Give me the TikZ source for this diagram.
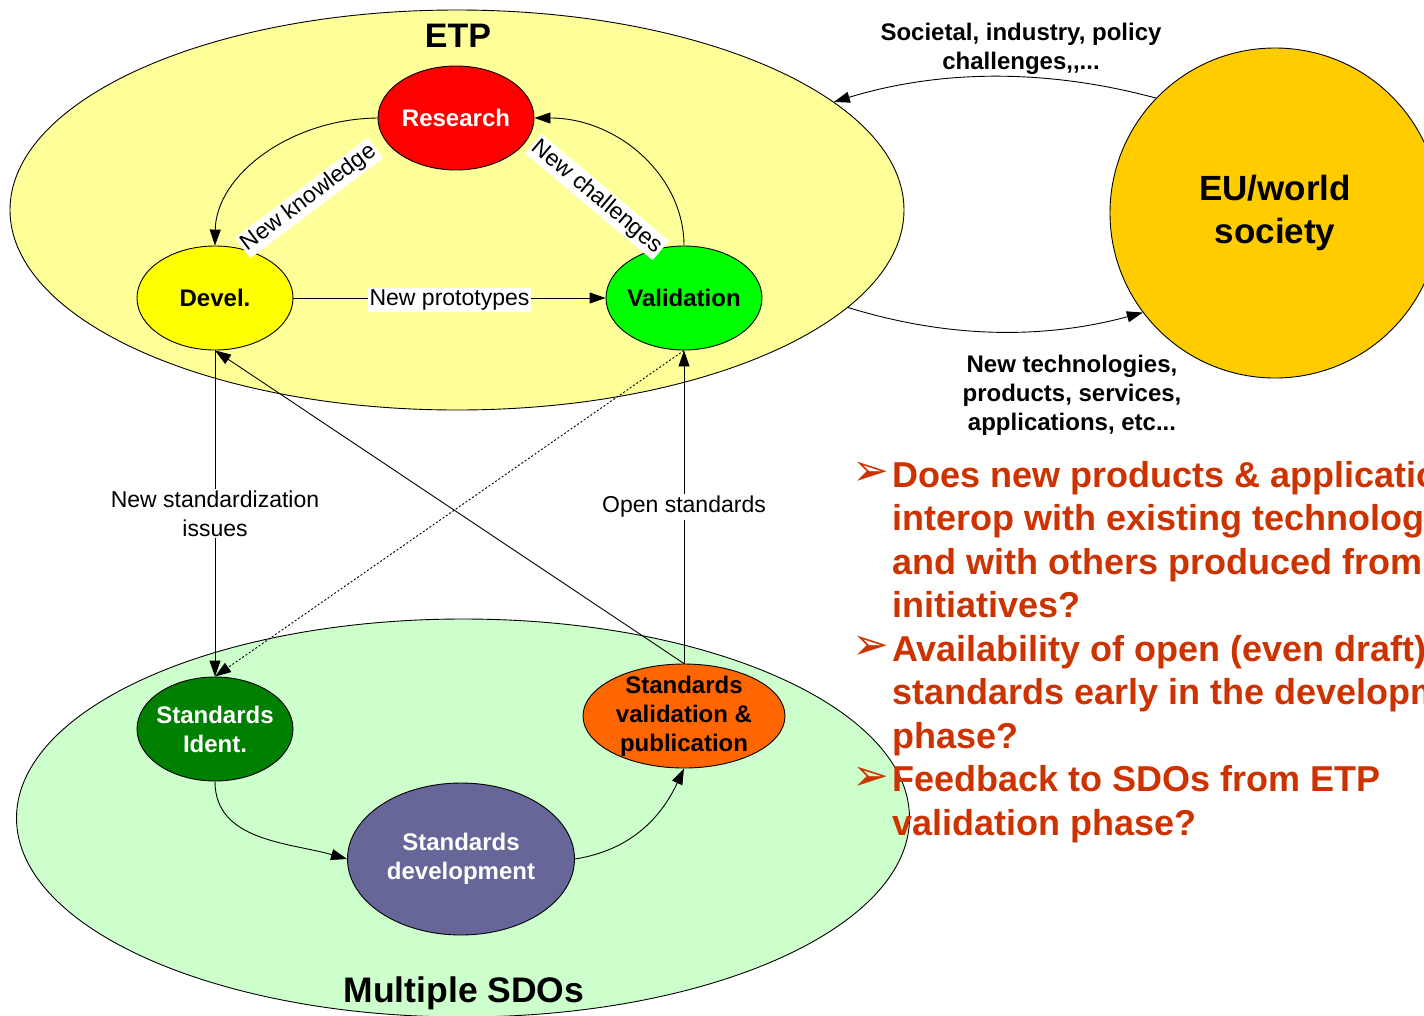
\documentclass[tikz,border=0pt]{standalone}
\usepackage{fontspec}
\setmainfont{Liberation Sans}
\newfontfamily\symfont{DejaVu Sans}
\usetikzlibrary{arrows.meta,shapes.geometric}
\definecolor{etpcol}{HTML}{FFFF99}
\definecolor{sdocol}{HTML}{CCFFCC}
\definecolor{eucol}{HTML}{FFCC00}
\definecolor{rescol}{HTML}{FF0000}
\definecolor{devcol}{HTML}{FFFF00}
\definecolor{valcol}{HTML}{00FF00}
\definecolor{idcol}{HTML}{008000}
\definecolor{svcol}{HTML}{FF6600}
\definecolor{sdcol}{HTML}{666699}
\definecolor{qcol}{HTML}{CC3300}
\begin{document}
\begin{tikzpicture}[x=1pt,y=-1pt,
  lw/.style={line width=0.9pt},
  big/.style={ellipse,draw,lw,inner sep=0pt},
  proc/.style={ellipse,draw,lw,inner sep=-6pt,minimum width=156pt,minimum height=104pt,align=center,font=\fontsize{24}{29}\selectfont\bfseries},
  arr/.style={lw,-{Triangle[length=16pt,width=11pt]}},
  lbl/.style={fill=white,inner sep=2pt,font=\fontsize{23}{29}\selectfont,align=center},
  blbl/.style={inner sep=0pt,font=\fontsize{24}{29}\selectfont\bfseries,align=center},
  title/.style={inner sep=0pt,anchor=base,font=\fontsize{34}{40}\selectfont\bfseries},
  qtext/.style={anchor=base west,inner sep=0pt,text=qcol,font=\fontsize{36}{43}\selectfont\bfseries},
  bul/.style={inner sep=0pt,text=qcol,font=\symfont\fontsize{44}{46}\selectfont},
]
\useasboundingbox (0,0) rectangle (1424,1015);
\clip (0,0) rectangle (1424,1015);
\fill[white] (0,0) rectangle (1424,1015);

% large regions
\node[big,fill=etpcol,minimum width=894pt,minimum height=400pt] (etp) at (457,210) {};
\node[big,fill=sdocol,minimum width=893pt,minimum height=398pt] (sdo) at (463,818) {};
\node[circle,draw,lw,fill=eucol,minimum size=330pt,inner sep=0pt,align=center,font=\fontsize{35}{43}\selectfont\bfseries] (eu) at (1275,213) {EU/world\\society};

\node[title] (etpt) at (458,47) {ETP};
\node[title,font=\fontsize{35.5}{40}\selectfont\bfseries] (sdot) at (464,1002) {Multiple SDOs};

% process nodes
\node[proc,fill=rescol,text=white] (res) at (456,118) {Research};
\node[proc,fill=devcol] (dev) at (215,298) {Devel.};
\node[proc,fill=valcol] (val) at (684,298) {Validation};
\node[proc,fill=idcol,text=white] (sid) at (215,729) {Standards\\Ident.};
\node[proc,fill=svcol,minimum width=202pt] (sv) at (684,716) {Standards\\validation \&\\publication};
\node[proc,fill=sdcol,text=white,minimum width=227pt,minimum height=152pt] (sdev) at (461,859) {Standards\\development};

% connectors
\draw[arr] (res.west) .. controls (289,119) and (216,176) .. (dev.north);
\draw[arr] (val.north) .. controls (684,176) and (618,118) .. (res.east);
\draw[arr] (dev.east) -- node[lbl,yshift=-2pt] (lproto) {New prototypes} (val.west);
\draw[arr] (dev.south) -- node[lbl] (lstd) {New standardization\\issues} (sid.north);
\draw[arr] (sv.north) -- node[lbl] (lopen) {Open standards} (val.south);
\draw[arr,dash pattern=on 2pt off 2pt] (val.south) -- (sid.north);
\draw[arr] (sv.north) -- (dev.south);
\draw[arr] (sid.south) to[out=-90,in=164] (sdev.west);
\draw[arr] (sdev.east) to[out=9,in=-115] (sv.south);
\draw[arr] (eu.136) .. controls (1048,69) and (942,69) .. (etp.16);
\draw[arr] (etp.-14) .. controls (950,339) and (1045,339) .. (eu.217);

\node[lbl,rotate=37] (lknow) at (309,198) {New knowledge};
\node[lbl,rotate=-40] (lchal) at (597,197) {New challenges};

\node[blbl] (soc) at (1021,49) {Societal, industry, policy\\challenges{,}{,}...};
\node[blbl] (tech) at (1072,395) {New technologies,\\products, services,\\applications, etc...};

% questions
\node[bul] (b1) at (871,474) {➢};
\node[bul] (b2) at (871,648) {➢};
\node[bul] (b3) at (871,779) {➢};
\node[qtext] (q1) at (892,487) {Does new products \& applications};
\node[qtext] (q2) at (892,530.5) {interop with existing technologies};
\node[qtext] (q3) at (892,574) {and with others produced from};
\node[qtext] (q4) at (892,617.5) {initiatives?};
\node[qtext] (q5) at (892,661) {Availability of open (even draft)};
\node[qtext] (q6) at (892,704.5) {standards early in the development};
\node[qtext] (q7) at (892,748) {phase?};
\node[qtext] (q8) at (892,791.5) {Feedback to SDOs from ETP};
\node[qtext] (q9) at (892,835) {validation phase?};
\end{tikzpicture}
\end{document}
